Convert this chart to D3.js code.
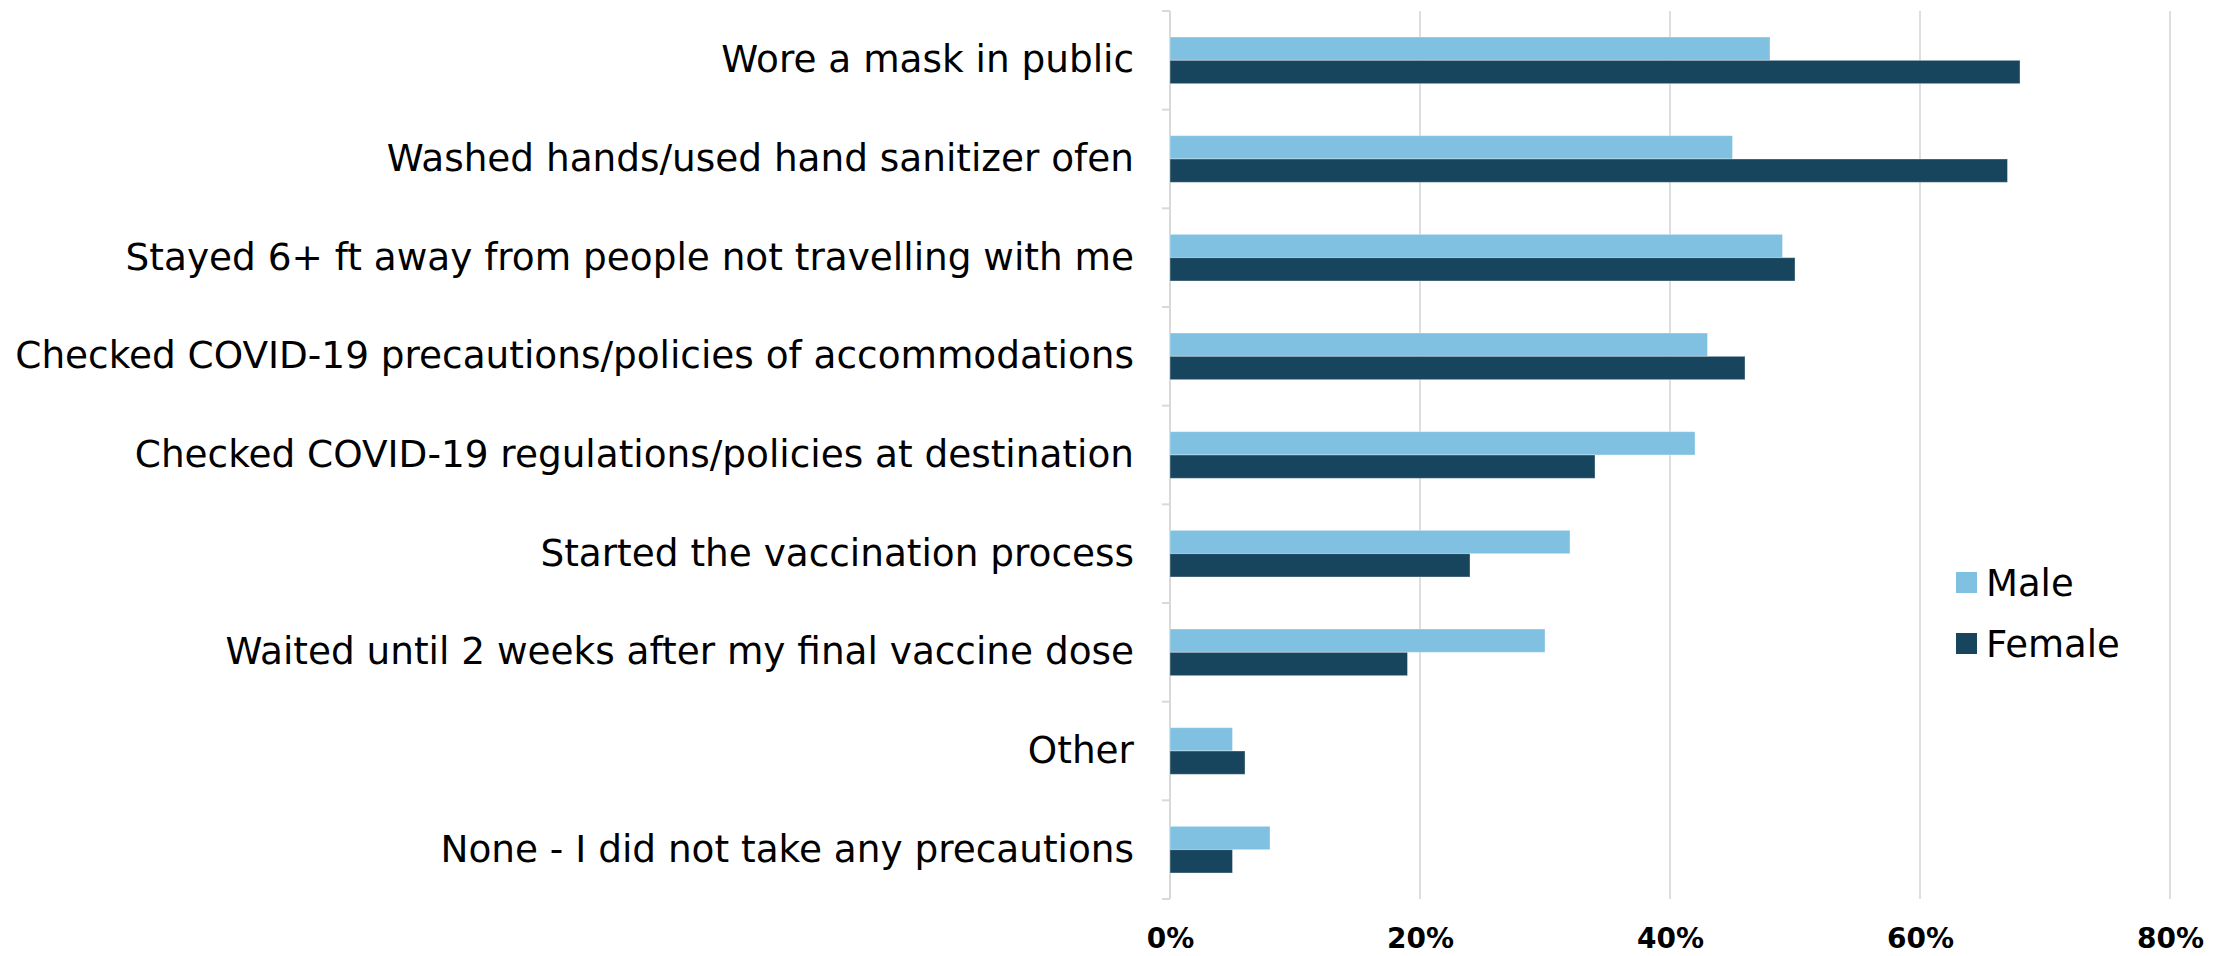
<!DOCTYPE html>
<html>
<head>
<meta charset="utf-8">
<script src="https://cdn.jsdelivr.net/npm/d3@7/dist/d3.min.js"></script>
<style>
  html, body { margin: 0; padding: 0; background: #fff; }
  svg { display: block; }
</style>
</head>
<body>
<svg id="chart" width="2231" height="956"></svg>
<script>
const categories = [
  "Wore a mask in public",
  "Washed hands/used hand sanitizer ofen",
  "Stayed 6+ ft away from people not travelling with me",
  "Checked COVID-19 precautions/policies of accommodations",
  "Checked COVID-19 regulations/policies at destination",
  "Started the vaccination process",
  "Waited until 2 weeks after my final vaccine dose",
  "Other",
  "None - I did not take any precautions"
];
const seriesNames = ["Male", "Female"];
const maleValues   = [0.48, 0.45, 0.49, 0.43, 0.42, 0.32, 0.30, 0.05, 0.08];
const femaleValues = [0.68, 0.67, 0.50, 0.46, 0.34, 0.24, 0.19, 0.06, 0.05];
const xTicks = [0, 0.2, 0.4, 0.6, 0.8];
const colors = ["#80c0e0", "#18455e"];

const font = "'DejaVu Sans', 'Noto Sans', sans-serif";
const svg = d3.select("#chart");

const x = d3.scaleLinear().domain([0, 0.8]).range([1170, 2170]);
const y = d3.scaleBand().domain(categories).range([11, 899]).padding(0);
const yInner = d3.scaleBand().domain(seriesNames).range([0, y.bandwidth()])
  .paddingInner(0).paddingOuter(1.115);
const color = d3.scaleOrdinal().domain(seriesNames).range(colors);

const rows = categories.map((c, i) => ({cat: c, values: [
  {key: "Male", value: maleValues[i]},
  {key: "Female", value: femaleValues[i]}
]}));

// gridlines
svg.append("g").selectAll("line")
  .data(xTicks.filter(t => t > 0))
  .join("line")
  .attr("x1", d => x(d)).attr("x2", d => x(d))
  .attr("y1", y.range()[0]).attr("y2", y.range()[1])
  .attr("stroke", "#dedede").attr("stroke-width", 2);

// left axis line and boundary ticks
const boundaries = categories.map(c => y(c)).concat([y.range()[1]]);
const axisG = svg.append("g");
axisG.append("line")
  .attr("x1", x(0)).attr("x2", x(0))
  .attr("y1", y.range()[0]).attr("y2", y.range()[1])
  .attr("stroke", "#d9d9d9").attr("stroke-width", 2);
axisG.selectAll("line.tick")
  .data(boundaries)
  .join("line").attr("class", "tick")
  .attr("x1", x(0) - 8).attr("x2", x(0))
  .attr("y1", d => d).attr("y2", d => d)
  .attr("stroke", "#d9d9d9").attr("stroke-width", 2);

// bars
const groups = svg.append("g").selectAll("g")
  .data(rows).join("g")
  .attr("transform", d => `translate(0,${y(d.cat)})`);
groups.selectAll("rect")
  .data(d => d.values).join("rect")
  .attr("x", x(0))
  .attr("y", d => yInner(d.key))
  .attr("width", d => x(d.value) - x(0))
  .attr("height", yInner.bandwidth())
  .attr("fill", d => color(d.key))
  .attr("stroke", "#ffffff").attr("stroke-opacity", 0.35).attr("stroke-width", 1);

// category labels
const yAxis = d3.axisLeft(y).tickSize(0).tickPadding(36);
const yAxisG = svg.append("g").attr("transform", `translate(${x(0)},0)`).call(yAxis);
yAxisG.select(".domain").remove();
yAxisG.selectAll("text")
  .attr("font-family", font).attr("font-size", 37.4).attr("fill", "#000");

// x tick labels
const xAxis = d3.axisBottom(x).tickValues(xTicks).tickFormat(d3.format(".0%")).tickSize(0).tickPadding(0);
const xAxisG = svg.append("g").attr("transform", `translate(0,948)`).call(xAxis);
xAxisG.select(".domain").remove();
xAxisG.selectAll("text")
  .attr("font-family", font).attr("font-size", 28).attr("font-weight", "bold")
  .attr("fill", "#000").attr("dy", 0);

// legend
const legend = svg.append("g").attr("transform", "translate(1956,572)");
const li = legend.selectAll("g").data(seriesNames).join("g")
  .attr("transform", (d, i) => `translate(0,${i * 61})`);
li.append("rect").attr("width", 21).attr("height", 21).attr("fill", d => color(d));
li.append("text").attr("x", 30).attr("y", 10.5).attr("dy", "0.36em")
  .attr("font-family", font).attr("font-size", 37).attr("fill", "#000")
  .text(d => d);
</script>
</body>
</html>
